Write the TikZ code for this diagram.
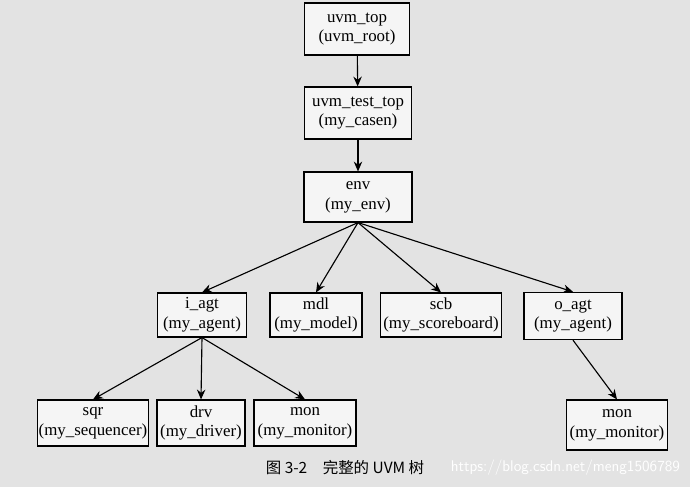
\documentclass[tikz,border=0pt]{standalone}
\usepackage{fontspec}
\setmainfont{Liberation Serif}
\newfontfamily\cjk{Noto Sans CJK SC}
\usetikzlibrary{arrows.meta}
\begin{document}
\begin{tikzpicture}[x=0.025cm,y=-0.025cm,
  box/.style={draw,thick,fill=white!92!gray,align=center,font=\fontsize{12}{14}\selectfont,inner sep=1pt},
  arr/.style={-{Stealth[length=7pt,width=6pt]},thick}]
\fill[gray!22] (0,0) rectangle (690,487);
\useasboundingbox (0,0) rectangle (690,487);
\node[box,minimum width=2.63cm,minimum height=1.3cm] (top) at (357,29) {uvm\_top\\(uvm\_root)};
\node[box,minimum width=2.68cm,minimum height=1.3cm] (test) at (358,113) {uvm\_test\_top\\(my\_casen)};
\node[box,minimum width=2.7cm,minimum height=1.25cm] (env) at (358,197) {env\\(my\_env)};
\node[box,minimum width=2.23cm,minimum height=1.1cm] (iagt) at (202,315) {i\_agt\\(my\_agent)};
\node[box,minimum width=2.3cm,minimum height=1.1cm] (mdl) at (316,315) {mdl\\(my\_model)};
\node[box,minimum width=3.03cm,minimum height=1.1cm] (scb) at (441,315) {scb\\(my\_scoreboard)};
\node[box,minimum width=2.45cm,minimum height=1.18cm] (oagt) at (573,316) {o\_agt\\(my\_agent)};
\node[box,minimum width=2.68cm,minimum height=1.15cm] (sqr) at (93,423) {sqr\\(my\_sequencer)};
\node[box,minimum width=2.2cm,minimum height=1.15cm] (drv) at (201,423) {drv\\(my\_driver)};
\node[box,minimum width=2.55cm,minimum height=1.15cm] (mon) at (305,423) {mon\\(my\_monitor)};
\node[box,minimum width=2.53cm,minimum height=1.25cm] (mon2) at (617,425) {mon\\(my\_monitor)};
\draw[arr] (top) -- (test);
\draw[arr] (test) -- (env);
\foreach \t in {iagt,mdl,scb,oagt} \draw[arr] (env.south) -- (\t.north);
\foreach \t in {sqr,drv,mon} \draw[arr] (iagt.south) -- (\t.north);
\draw[arr] (oagt.south) -- (mon2.north);
\node[font=\cjk\fontsize{11}{12}\selectfont] (cap) at (345,468) {图 3-2\quad 完整的 UVM 树};
\node[font=\sffamily\fontsize{11}{12}\selectfont,text=white,anchor=east] (wm) at (685,468) {https://blog.csdn.net/meng1506789};
\end{tikzpicture}
\end{document}
